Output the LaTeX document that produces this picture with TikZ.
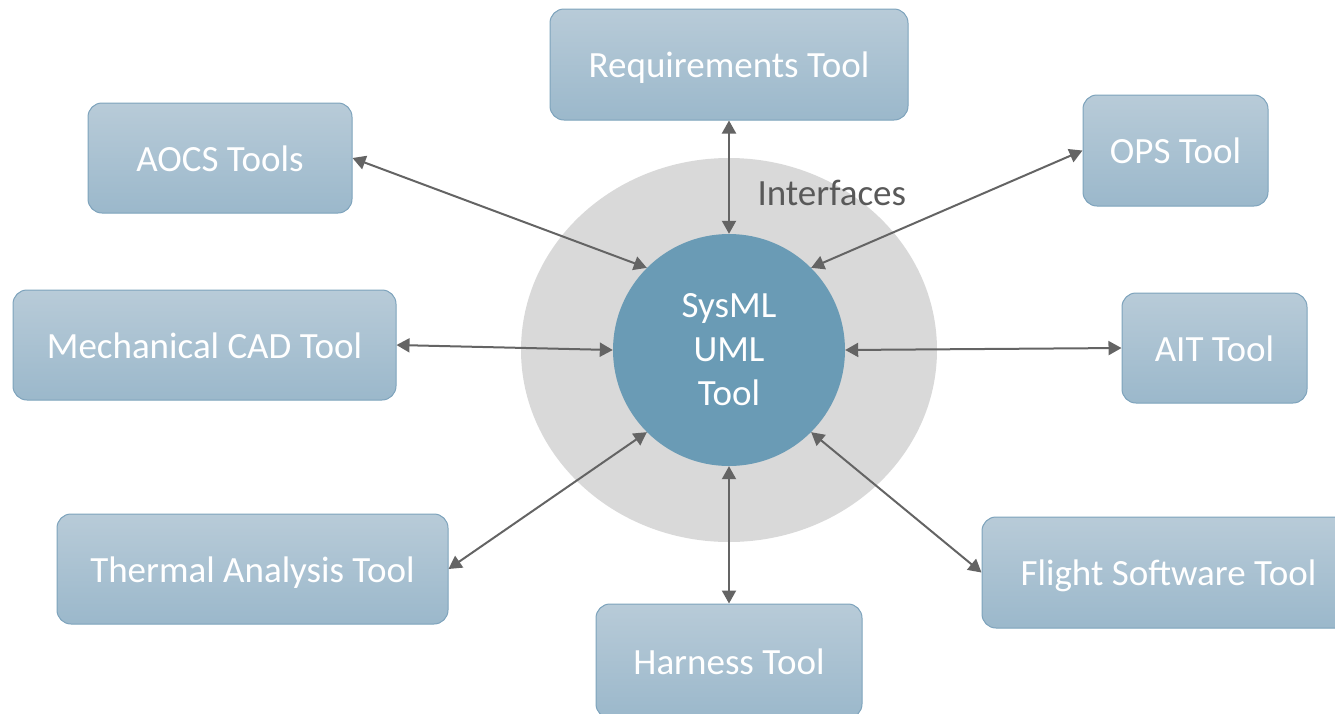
\documentclass[tikz,border=0pt]{standalone}
\usepackage{fontspec}
\setmainfont{Carlito}
\usetikzlibrary{arrows.meta}
\definecolor{boxtop}{HTML}{B8CBD8}
\definecolor{boxbot}{HTML}{9BB8CB}
\definecolor{boxline}{HTML}{7DA3BC}
\definecolor{hub}{HTML}{6A9BB5}
\definecolor{halo}{HTML}{D9D9D9}
\definecolor{link}{HTML}{646464}
\definecolor{labelgray}{HTML}{595959}
\tikzset{
  toolbox/.style={rectangle, rounded corners=14pt, draw=boxline, line width=1pt,
    top color=boxtop, bottom color=boxbot, text=white, inner sep=0pt,
    text height=26pt, text depth=0pt,
    font=\fontsize{37}{44}\selectfont},
  hubnode/.style={circle, fill=hub, text=white, minimum size=232pt, inner sep=0pt,
    align=center, font=\fontsize{37}{44}\selectfont},
  iface/.style={<->, draw=link, line width=2pt,
    >={Triangle[length=13pt,width=14pt]}}
}
\begin{document}
\begin{tikzpicture}[x=1pt,y=-1pt]
\useasboundingbox (0,0) rectangle (1335,713);
% interface halo and central tool
\fill[halo] (729,350) ellipse [x radius=208, y radius=192];
\node[hubnode] (hub) at (729,350) {SysML\\UML\\Tool};
\node[anchor=west, text=labelgray, font=\fontsize{37}{44}\selectfont] (ifl) at (754,193) {Interfaces};
% surrounding tools
\node[toolbox, minimum width=358pt, minimum height=111pt] (req) at (729,64.5) {Requirements Tool};
\node[toolbox, minimum width=264pt, minimum height=110pt] (aocs) at (220,158) {AOCS Tools};
\node[toolbox, minimum width=185pt, minimum height=111pt] (ops) at (1175.5,150.5) {OPS Tool};
\node[toolbox, minimum width=383pt, minimum height=110pt] (mech) at (204.5,345) {Mechanical CAD Tool};
\node[toolbox, minimum width=185pt, minimum height=110pt] (ait) at (1214.5,348) {AIT Tool};
\node[toolbox, minimum width=391pt, minimum height=110pt] (therm) at (252.5,569) {Thermal Analysis Tool};
\node[toolbox, minimum width=373pt, minimum height=111pt] (flight) at (1168.5,572.5) {Flight Software Tool};
\node[toolbox, minimum width=266pt, minimum height=114pt] (harn) at (729,661) {Harness Tool};
% interfaces
\draw[iface] (req.south) -- (hub.north);
\draw[iface] (aocs.east) -- (hub.135);
\draw[iface] (ops.west) -- (hub.45);
\draw[iface] (mech.east) -- (hub.west);
\draw[iface] (hub.east) -- (ait.west);
\draw[iface] (therm.east) -- (hub.225);
\draw[iface] (flight.west) -- (hub.315);
\draw[iface] (hub.south) -- (harn.north);
\end{tikzpicture}
\end{document}
